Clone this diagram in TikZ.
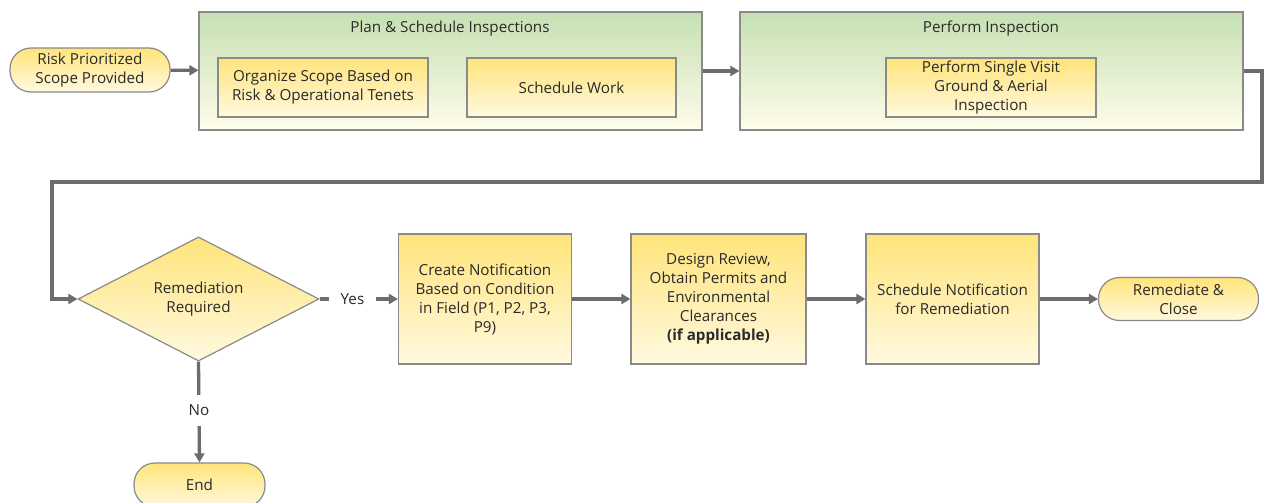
\documentclass[tikz,border=0pt]{standalone}
\usepackage{fontspec}
\setmainfont{Open Sans}
\usetikzlibrary{arrows.meta,shapes.geometric}
\definecolor{ln}{HTML}{6E6A6E}
\definecolor{bd}{HTML}{8A8A8A}
\definecolor{tx}{HTML}{2A2A2A}
\definecolor{ytop}{HTML}{FFE47A}
\definecolor{ybot}{HTML}{FFF9E0}
\definecolor{gtop}{HTML}{C5E0B3}
\definecolor{gbot}{HTML}{FFFCEB}
\tikzset{
  base/.style={draw=bd, line width=1.2pt, text=tx, font=\fontsize{15.2}{19}\selectfont, align=center, inner sep=0pt},
  ybox/.style={base, shading=axis, top color=ytop, bottom color=ybot, rectangle},
  groupbox/.style={base, shading=axis, top color=gtop, bottom color=gbot, rectangle},
  pill/.style={ybox, rounded corners=21pt},
  decision/.style={base, shading=axis, top color=ytop, bottom color=ybot, diamond},
  ttl/.style={text=tx, font=\fontsize{15.2}{19}\selectfont, inner sep=0pt},
  flow/.style={draw=ln, line width=3.3pt, -{Triangle[length=9pt,width=10pt]}},
  lbl/.style={fill=white, text=tx, font=\fontsize{15.2}{19}\selectfont, inner xsep=12pt, inner ysep=10pt},
}
\begin{document}
\begin{tikzpicture}[x=1pt,y=-1pt]
\clip (0,0) rectangle (1264,503);
\fill[white] (0,0) rectangle (1264,503);
% top row
\node[pill, minimum width=160pt, minimum height=44pt] (start) at (90,70) {Risk Prioritized\\Scope Provided};
\node[groupbox, minimum width=503pt, minimum height=118pt] (g1) at (450.5,71) {};
\node[ttl] (t1) at (450,28.5) {Plan \& Schedule Inspections};
\node[ybox, minimum width=210pt, minimum height=59pt] (o1) at (323,87.5) {Organize Scope Based on\\Risk \& Operational Tenets};
\node[ybox, minimum width=209pt, minimum height=59pt] (o2) at (571.5,87.5) {Schedule Work};
\node[groupbox, minimum width=503pt, minimum height=118pt] (g2) at (991.5,71) {};
\node[ttl] (t2) at (991,28.5) {Perform Inspection};
\node[ybox, minimum width=210pt, minimum height=59pt] (p1) at (991,87.5) {Perform Single Visit\\Ground \& Aerial\\Inspection};
% bottom row
\node[decision, minimum width=241pt, minimum height=124pt] (dia) at (198.5,299) {Remediation\\Required};
\node[ybox, minimum width=173pt, minimum height=130pt] (n1) at (485,299) {Create Notification\\Based on Condition\\in Field (P1, P2, P3,\\P9)};
\node[ybox, minimum width=175pt, minimum height=130pt] (n2) at (718.5,299) {Design Review,\\Obtain Permits and\\Environmental\\Clearances\\\textbf{(if applicable)}};
\node[ybox, minimum width=173pt, minimum height=130pt] (n3) at (952.5,299) {Schedule Notification\\for Remediation};
\node[pill, minimum width=160pt, minimum height=43pt] (close) at (1178.5,299) {Remediate \&\\Close};
\node[pill, minimum width=131pt, minimum height=44pt] (end) at (199.5,485) {End};
% connectors
\draw[flow] (start) -- (g1);
\draw[flow] (g1) -- (g2);
\coordinate (c1) at (1262,71);
\coordinate (c2) at (1262,182);
\coordinate (c3) at (52,182);
\draw[flow] (g2.east) -- (c1) -- (c2) -- (c3) |- (dia.west);
\draw[flow] (dia.east) -- node[lbl, pos=0.42] (yes) {Yes} (n1.west);
\draw[flow] (n1) -- (n2);
\draw[flow] (n2) -- (n3);
\draw[flow] (n3) -- (close);
\draw[flow] (dia.south) -- node[lbl, pos=0.48] (no) {No} (end.north);
\end{tikzpicture}
\end{document}
